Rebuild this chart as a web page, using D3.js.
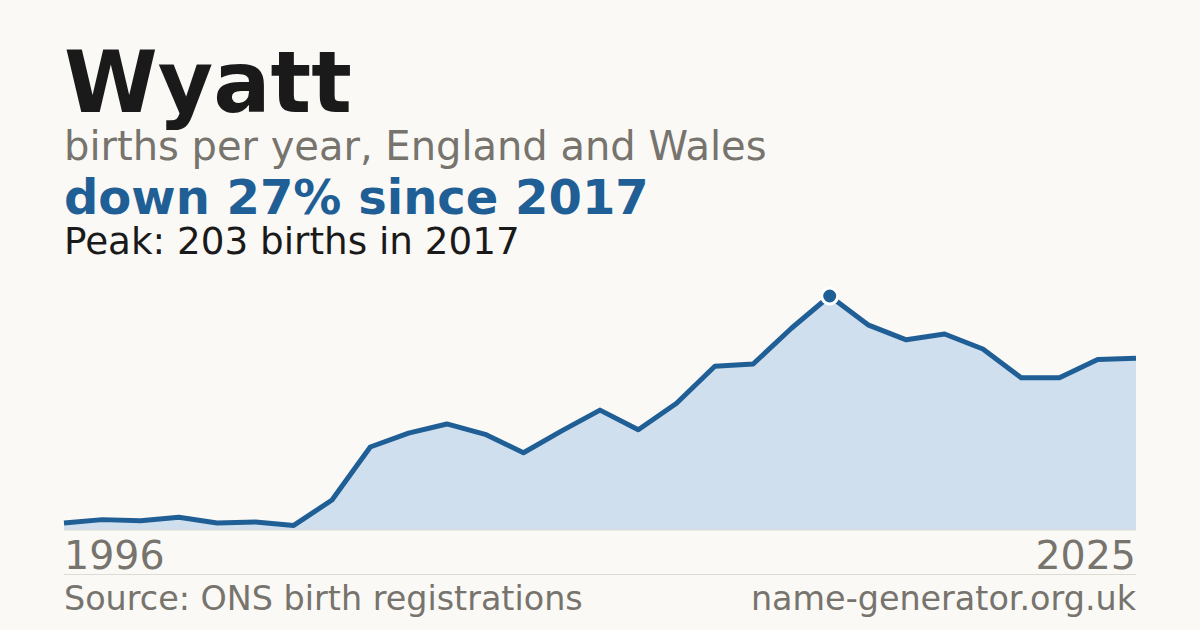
<!DOCTYPE html>
<html>
<head>
<meta charset="utf-8">
<script src="https://cdn.jsdelivr.net/npm/d3@7"></script>
<style>
  body { margin: 0; background: #faf9f5; }
  svg { display: block; font-family: "DejaVu Sans", sans-serif; }
</style>
</head>
<body>
<div id="chart"></div>
<script>
// data (one point per registration year)
var years = [1997, 1998, 1999, 2000, 2001, 2002, 2003, 2004, 2005, 2006,
             2007, 2008, 2009, 2010, 2011, 2012, 2013, 2014, 2015, 2016,
             2017, 2018, 2019, 2020, 2021, 2022, 2023, 2024, 2025];
var births = [6, 9, 8, 11, 6, 7, 4, 26, 72, 84,
              92, 83, 67, 86, 104, 87, 110, 142, 144, 175,
              203, 178, 165, 170, 157, 132, 132, 148, 149];
var tickLabels = ["1996", "2025"];

var svgWidth = 1200;
var svgHeight = 630;
var margin = {left: 64, right: 64, top: 296, bottom: 100};

var blue = "#1f5f96";
var grey = "#77736d";

var svg = d3.select("#chart")
  .append("svg")
  .attr("width", svgWidth)
  .attr("height", svgHeight);

svg.append("rect")
  .attr("width", svgWidth)
  .attr("height", svgHeight)
  .attr("fill", "#faf9f5");

// headings
svg.append("text")
  .attr("x", 64).attr("y", 112)
  .attr("font-size", 85).attr("font-weight", "bold")
  .attr("fill", "#1a1a1a")
  .text("Wyatt");

svg.append("text")
  .attr("x", 64).attr("y", 160)
  .attr("font-size", 40)
  .attr("fill", grey)
  .text("births per year, England and Wales");

svg.append("text")
  .attr("x", 64).attr("y", 214)
  .attr("font-size", 48).attr("font-weight", "bold")
  .attr("fill", blue)
  .text("down 27% since 2017");

svg.append("text")
  .attr("x", 64).attr("y", 254)
  .attr("font-size", 37.3)
  .attr("fill", "#1a1a1a")
  .text("Peak: 203 births in 2017");

// scales
var x = d3.scaleLinear()
  .domain([0, births.length - 1])
  .range([margin.left, svgWidth - margin.right]);

var y = d3.scaleLinear()
  .domain([0, d3.max(births)])
  .range([svgHeight - margin.bottom, margin.top]);

var area = d3.area()
  .x((d, i) => x(i))
  .y0(y(0))
  .y1(d => y(d));

var line = d3.line()
  .x((d, i) => x(i))
  .y(d => y(d));

svg.append("path")
  .datum(births)
  .attr("d", area)
  .attr("fill", "#cfdfee");

svg.append("line")
  .attr("x1", x(0)).attr("x2", x(births.length - 1))
  .attr("y1", y(0)).attr("y2", y(0))
  .attr("stroke", "#dcdad4")
  .attr("stroke-width", 1);

svg.append("path")
  .datum(births)
  .attr("d", line)
  .attr("fill", "none")
  .attr("stroke", blue)
  .attr("stroke-width", 5)
  .attr("stroke-linejoin", "round");

// peak marker
var peakIdx = births.indexOf(d3.max(births));
svg.append("circle")
  .attr("cx", x(peakIdx))
  .attr("cy", y(births[peakIdx]))
  .attr("r", 8)
  .attr("fill", blue)
  .attr("stroke", "#ffffff")
  .attr("stroke-width", 3);

// end labels
svg.append("text")
  .attr("x", x(0)).attr("y", 569)
  .attr("font-size", 39.5)
  .attr("fill", grey)
  .text(tickLabels[0]);

svg.append("text")
  .attr("x", x(births.length - 1)).attr("y", 569)
  .attr("font-size", 39.5)
  .attr("text-anchor", "end")
  .attr("fill", grey)
  .text(tickLabels[1]);

svg.append("line")
  .attr("x1", 64).attr("x2", 1136)
  .attr("y1", 574.5).attr("y2", 574.5)
  .attr("stroke", "#dedbd5")
  .attr("stroke-width", 1);

// footer
svg.append("text")
  .attr("x", 64).attr("y", 610)
  .attr("font-size", 33.4)
  .attr("fill", grey)
  .text("Source: ONS birth registrations");

svg.append("text")
  .attr("x", 1136).attr("y", 610)
  .attr("font-size", 33.4)
  .attr("text-anchor", "end")
  .attr("fill", grey)
  .text("name-generator.org.uk");
</script>
</body>
</html>
